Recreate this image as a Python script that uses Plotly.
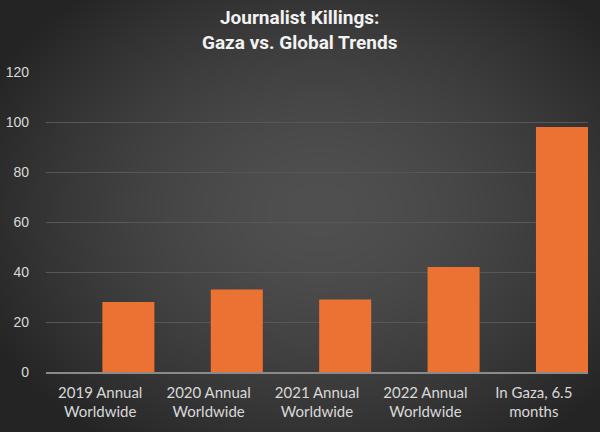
import base64
import struct
import zlib

import numpy as np
import plotly.graph_objects as go

categories = [
    "2019 Annual<br>Worldwide",
    "2020 Annual<br>Worldwide",
    "2021 Annual<br>Worldwide",
    "2022 Annual<br>Worldwide",
    "In Gaza, 6.5<br>months",
]
killings = [28, 33, 29, 42, 98]
y_ticks = [0, 20, 40, 60, 80, 100, 120]

W, H = 600, 432
L, R, T, B = 46, 12, 72, 60


def png_uri(arr):
    h, w, _ = arr.shape
    raw = b"".join(b"\x00" + arr[i].tobytes() for i in range(h))

    def chunk(tag, data):
        c = struct.pack(">I", len(data)) + tag + data
        return c + struct.pack(">I", zlib.crc32(tag + data) & 0xFFFFFFFF)

    png = b"\x89PNG\r\n\x1a\n"
    png += chunk(b"IHDR", struct.pack(">IIBBBBB", w, h, 8, 2, 0, 0, 0))
    png += chunk(b"IDAT", zlib.compress(raw, 9))
    png += chunk(b"IEND", b"")
    return "data:image/png;base64," + base64.b64encode(png).decode()


# radial dark-grey backdrop, lighter in the middle
yy, xx = np.mgrid[0:H, 0:W]
d = np.sqrt(((xx - 320) / 340.0) ** 2 + ((yy - 210) / 260.0) ** 2)
shade = np.clip(80 - 38 * d ** 1.6, 36, 80).astype(np.uint8)
bg = np.dstack([shade, shade, shade])

pw, ph = W - L - R, H - T - B

fig = go.Figure()
fig.add_trace(
    go.Bar(
        x=categories,
        y=killings,
        offset=0.02,
        width=0.48,
        marker=dict(color="#eb7232", line=dict(width=0)),
        hoverinfo="x+y",
    )
)
fig.add_annotation(
    text="Journalist Killings:<br>Gaza vs. Global Trends",
    xref="paper",
    yref="paper",
    x=(W / 2 - L) / pw,
    y=1 + T / ph,
    xanchor="center",
    yanchor="top",
    yshift=-4,
    showarrow=False,
    font=dict(family="Roboto", size=19, color="#f2f2f2", weight="bold"),
)
fig.update_layout(
    width=W,
    height=H,
    margin=dict(l=L, r=R, t=T, b=B, autoexpand=False),
    paper_bgcolor="#3c3c3c",
    plot_bgcolor="rgba(0,0,0,0)",
    showlegend=False,
    xaxis=dict(
        type="category",
        range=[-0.5, 4.5],
        automargin=False,
        showgrid=False,
        showline=True,
        linecolor="#8a8a8a",
        linewidth=1.5,
        ticks="",
        ticklabelstandoff=6,
        tickfont=dict(family="Lato", size=15, color="#d9d9d9"),
    ),
    yaxis=dict(
        range=[0, 120],
        tickvals=y_ticks,
        automargin=False,
        showgrid=True,
        gridcolor="#575757",
        gridwidth=1,
        zeroline=False,
        showline=False,
        ticks="",
        ticklabelstandoff=16,
        tickfont=dict(family="Liberation Sans", size=14, color="#d9d9d9"),
    ),
    images=[
        dict(
            source=png_uri(bg),
            xref="paper",
            yref="paper",
            x=-L / pw,
            y=1 + T / ph,
            sizex=W / pw,
            sizey=H / ph,
            xanchor="left",
            yanchor="top",
            sizing="stretch",
            layer="below",
        )
    ],
)
fig.write_html(
    "out.html",
    config={"displayModeBar": False},
    post_script="document.body.style.margin='0';document.body.style.overflow='hidden';",
)
